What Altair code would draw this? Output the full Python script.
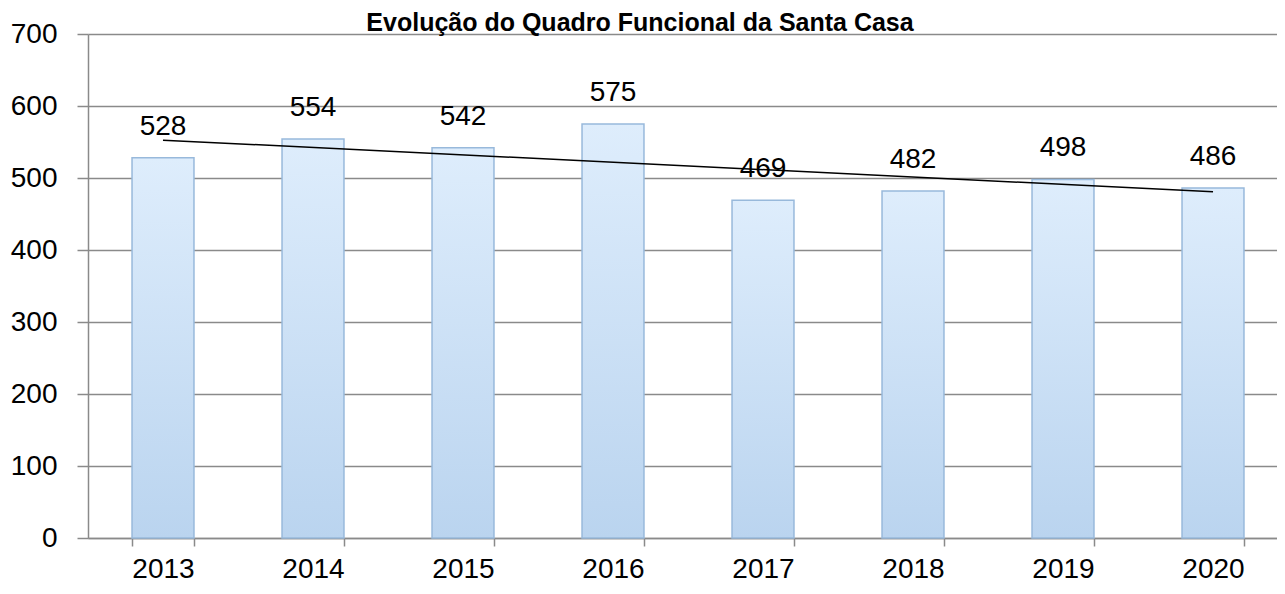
import altair as alt
import pandas as pd

# ---- data ----
years = [2013, 2014, 2015, 2016, 2017, 2018, 2019, 2020]
employees = [528, 554, 542, 575, 469, 482, 498, 486]
y_ticks = [0, 100, 200, 300, 400, 500, 600, 700]
title_text = ["Evolução do Quadro Funcional da Santa Casa"]

df = pd.DataFrame({"year": years, "employees": employees})
title_df = pd.DataFrame({"t": title_text})

FONT = "Liberation Sans Narrow, Arial Narrow, Liberation Sans, Arial, sans-serif"
GRID = "#8a8a8a"
FS = 28

x_scale = alt.Scale(domain=years, range=[0, 1200], paddingInner=0.587, paddingOuter=0.2935)
y_scale = alt.Scale(domain=[0, 700], nice=False)

x_axis = alt.Axis(
    title=None, labelAngle=0, labelFont=FONT, labelFontSize=FS, labelColor="black",
    domainColor=GRID, domainWidth=1.5, tickColor=GRID, tickWidth=1.5, tickSize=8,
    tickBand="extent", labelPadding=9, grid=False,
)
y_axis = alt.Axis(
    title=None, values=y_ticks, labelFont=FONT, labelFontSize=FS, labelColor="black",
    domainColor=GRID, domainWidth=1.5, tickColor=GRID, tickWidth=1.5, tickSize=11,
    labelPadding=20, grid=True, gridColor=GRID, gridWidth=1.5,
)

base = alt.Chart(df)

bars = base.mark_bar(
    fill=alt.Gradient(
        gradient="linear",
        stops=[
            alt.GradientStop(color="#deedfc", offset=0),
            alt.GradientStop(color="#bad4ef", offset=1),
        ],
        x1=0, x2=0, y1=0, y2=1,
    ),
    stroke="#98b9db",
    strokeWidth=1.5,
).encode(
    x=alt.X("year:O", scale=x_scale, axis=x_axis),
    y=alt.Y("employees:Q", scale=y_scale, axis=y_axis),
)

labels = base.mark_text(
    dy=-31, baseline="middle", align="center", font=FONT, fontSize=FS, color="black"
).encode(
    x=alt.X("year:O", scale=x_scale),
    y=alt.Y("employees:Q", scale=y_scale),
    text=alt.Text("employees:Q"),
)

trend = base.transform_regression("year", "employees").mark_line(
    color="black", strokeWidth=1.5
).encode(
    x=alt.X("year:O", scale=x_scale),
    y=alt.Y("employees:Q", scale=y_scale),
)

title = alt.Chart(title_df).mark_text(
    font="Liberation Sans", fontSize=25, fontWeight="bold", color="black",
    baseline="alphabetic", align="center",
).encode(
    text="t:N",
    x=alt.value(552),
    y=alt.value(-3),
)

chart = alt.layer(bars, trend, labels, title).properties(
    width=1189,
    height=504,
    autosize=alt.AutoSizeParams(type="none"),
    padding={"left": 80, "top": 26, "right": 0, "bottom": 48},
).configure_view(stroke=None)

chart.save("out.html", embed_options={"renderer": "svg", "actions": False})
